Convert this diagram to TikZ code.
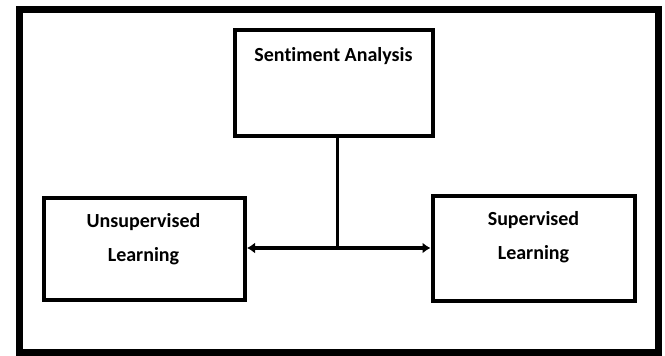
\documentclass[tikz,border=0pt]{standalone}
\usepackage{fontspec}
\setmainfont[Ligatures=NoCommon]{Carlito}
\usetikzlibrary{arrows.meta}
\tikzset{
  box/.style={draw=black, line width=4pt, fill=white, inner sep=0pt},
  lbl/.style={font=\bfseries\fontsize{20}{34}\selectfont, align=center, inner sep=0pt},
  conn/.style={draw=black, line width=3.5pt},
  tip/.style={-{Latex[length=8pt,width=11pt]}}
}
\begin{document}
\begin{tikzpicture}[x=1pt,y=-1pt]
\useasboundingbox (0,0) rectangle (665,356);
\draw[line width=7pt] (19,9) rectangle (658,352);
\node[box, minimum width=198pt, minimum height=106pt] (sa) at (333.5,82.5) {};
\node[box, minimum width=201pt, minimum height=102pt] (ul) at (144.5,248.5) {};
\node[box, minimum width=202pt, minimum height=105.5pt] (sl) at (533.5,248.25) {};
\node[lbl, anchor=base] (tsa) at (333.5,61) {Sentiment Analysis};
\node[lbl, anchor=north] (tul) at (143.5,213) {Unsupervised\\Learning};
\node[lbl, anchor=north] (tsl) at (533.5,211) {Supervised\\Learning};
\coordinate (j) at (337.5,248);
\draw[conn] (sa.south -| j) -- (j);
\draw[conn, {Latex[length=8pt,width=11pt]}-{Latex[length=8pt,width=11pt]}] (ul.east |- j) -- (sl.west |- j);
\end{tikzpicture}
\end{document}
